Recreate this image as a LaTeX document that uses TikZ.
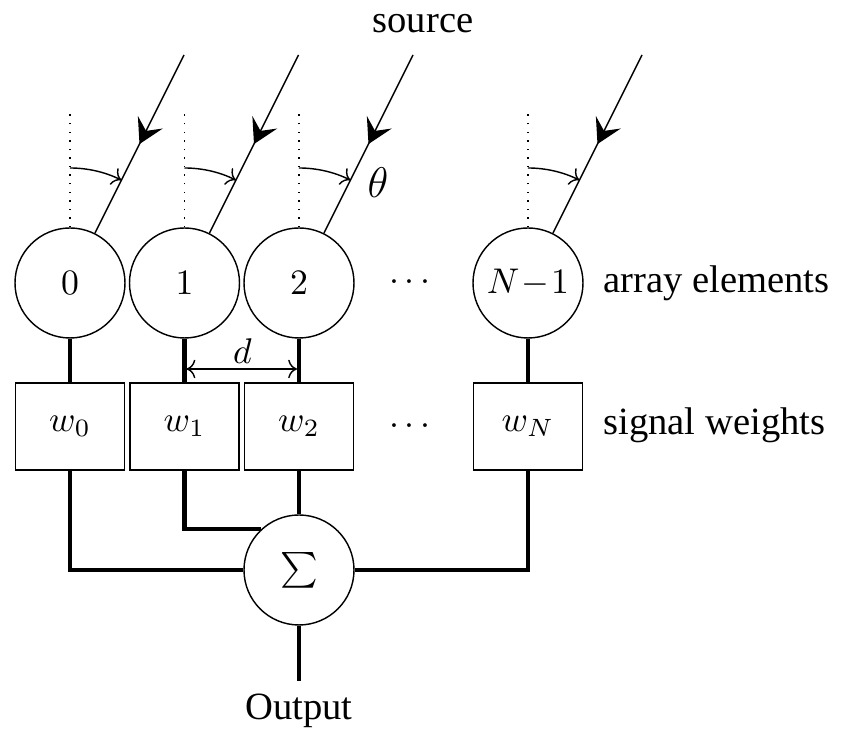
\documentclass[tikz,border=0pt]{standalone}
\usepackage[no-math]{fontspec}
\setmainfont{Liberation Serif}[Scale=1.08]
\usetikzlibrary{arrows.meta,decorations.markings}
\begin{document}
\begin{tikzpicture}[x=0.28pt,y=-0.28pt,
  elem/.style={circle,draw,line width=0.4pt,minimum size=30.8pt,inner sep=0pt},
  weight/.style={rectangle,draw,line width=0.4pt,minimum width=30.5pt,minimum height=24.4pt,inner sep=0pt},
  sumnode/.style={circle,draw,line width=0.4pt,minimum size=30.8pt,inner sep=0pt},
  wire/.style={line width=1.2pt},
  thinline/.style={line width=0.4pt},
  ray/.style={line width=0.4pt,postaction={decorate},
    decoration={markings,mark=at position 0.5 with {\arrow{Stealth[length=6.8pt,width=7.8pt,inset=2.7pt]}}}}]
\useasboundingbox (0,0) rectangle (842,731);

\foreach \i/\x/\lab/\wl in {0/70/0/w_0, 1/184.5/1/w_1, 2/299/2/w_2, 3/528/N\!-\!1/w_N} {
  \node[elem] (e\i) at (\x,283) {$\lab$};
  \node[weight] (w\i) at (\x,426.5) {$\wl$};
  \coordinate (s\i) at (\x+114,55);
  \coordinate (v\i) at (\x,110);
  \coordinate (a\i) at (\x,168);
  \draw[ray] (s\i) -- (e\i);
  \draw[thinline,dotted] (e\i.north) -- (v\i);
  \draw[thinline,->] (a\i) arc[start angle=-90,end angle=-63.43,radius=115];
  \draw[wire] (e\i) -- (w\i);
}

\node (dots1) at (410,283) {$\cdots$};
\node (dots2) at (410,427) {$\cdots$};

\node[sumnode] (S) at (299,570) {$\sum$};
\draw[wire] (w0) |- (S);
\draw[wire] (w1) |- (S.133.3);
\draw[wire] (w2) -- (S);
\draw[wire] (w3) |- (S);
\node[anchor=base] (out) at (299,720) {Output};
\draw[wire] (S) -- (out);

\node[anchor=base west] (lab1) at (590,293) {array elements};
\node[anchor=base west] (lab2) at (590,435) {signal weights};
\node[anchor=base] (src) at (423,33) {source};
\node[font=\large] (th) at (378,183) {$\theta$};

\coordinate (d1) at (186.5,369);
\coordinate (d2) at (297,369);
\draw[thinline,<->] (d1) -- (d2);
\node (dl) at (242.5,351) {$d$};
\end{tikzpicture}
\end{document}
